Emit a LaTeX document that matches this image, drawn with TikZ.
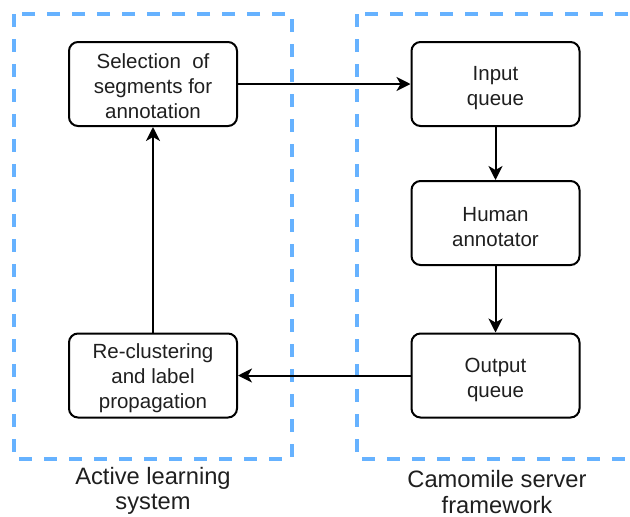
\documentclass[tikz,border=0pt]{standalone}
\usepackage{fontspec}
\setmainfont{Liberation Sans}
\usetikzlibrary{arrows.meta}
\definecolor{dashblue}{HTML}{66B2FF}
\begin{document}
\begin{tikzpicture}[x=1pt,y=-1pt,
  block/.style={draw=black, line width=2pt, rounded corners=9pt, minimum width=168pt, minimum height=84pt, inner sep=0pt},
  btext/.style={align=center, font=\fontsize{20.5}{25}\selectfont, text=black!88, inner sep=0pt},
  group/.style={draw=dashblue, line width=3.3pt, dash pattern=on 13pt off 12pt},
  conn/.style={line width=2pt, -{Stealth[length=14pt,width=14pt,inset=4pt]}},
  caption/.style={align=center, font=\fontsize{23.7}{25.5}\selectfont, text=black!88, inner sep=0pt}]
\useasboundingbox (0,0) rectangle (630,517);
\begin{scope}
\clip (0,0) rectangle (630,517);
\draw[group] (14,14) rectangle (292,459);
\draw[group] (357,14) rectangle (660,459);
\end{scope}
\node[block] (sel) at (153,84) {};
\node[block] (rec) at (153,375.5) {};
\node[block] (inq) at (495.5,84) {};
\node[block] (hum) at (495.5,223) {};
\node[block] (outq) at (495.5,375.5) {};
\node[btext] (selt) at ([yshift=-2.5pt]sel.center) {Selection\ \ of\\segments for\\annotation};
\node[btext] (rect) at ([yshift=-2.5pt]rec.center) {Re-clustering\\and label\\propagation};
\node[btext] (inqt) at ([yshift=-4pt]inq.center) {Input\\queue};
\node[btext] (humt) at ([yshift=-4pt]hum.center) {Human\\annotator};
\node[btext] (outqt) at ([yshift=-4pt]outq.center) {Output\\queue};
\node[caption] (cap1) at (153,491) {Active learning\\system};
\node[caption] (cap2) at (497,492) {Camomile server\\framework};
\draw[conn] (sel) -- (inq);
\draw[conn] (inq) -- (hum);
\draw[conn] (hum) -- (outq);
\draw[conn] (outq) -- (rec);
\draw[conn] (rec) -- (sel);
\end{tikzpicture}
\end{document}
